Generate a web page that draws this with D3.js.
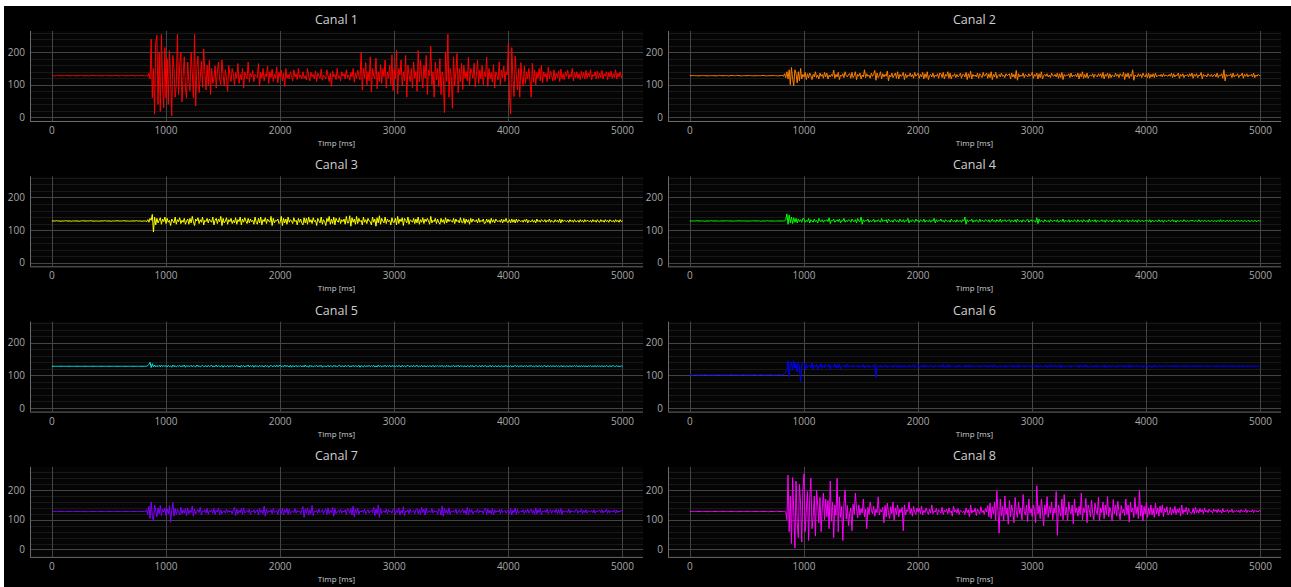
<!DOCTYPE html>
<html>
<head>
<meta charset="utf-8">
<script src="https://cdn.jsdelivr.net/npm/d3@7"></script>
<style>
html,body{margin:0;padding:0;background:#ffffff;}
svg{display:block;}
</style>
</head>
<body>
<svg id="chart" width="1291" height="587"></svg>
<script>
// Eight acquisition channels, one raw ADC sample every 10 ms from 0 to 5000 ms.
const sampleStepMs = 10;
const channelNames = ["Canal 1","Canal 2","Canal 3","Canal 4","Canal 5","Canal 6","Canal 7","Canal 8"];
const channelColors = ["#ff0000","#ff8000","#ffff00","#00ff00","#00e8e8","#0000ff","#8000ff","#ff00ff"];
const xTicks = [0,1000,2000,3000,4000,5000];
const yTicks = [0,100,200];
const xTitle = "Timp [ms]";

const canal1 = [
128,128,127,128,128,129,128,128,127,128,128,128,128,129,128,128,127,128,128,128,
128,127,128,128,128,129,128,128,128,127,128,128,127,128,128,128,129,128,128,128,
128,128,128,127,128,128,128,129,128,128,127,128,128,128,128,128,129,128,128,127,
128,128,129,128,128,127,128,128,128,128,129,128,128,127,128,128,128,128,129,128,
128,128,127,130,126,135,118,240,60,150,10,230,252,40,200,18,255,90,30,214,
60,180,40,205,120,5,190,150,62,100,255,70,160,200,48,130,186,90,60,170,
110,82,200,140,60,255,35,150,188,76,120,172,92,210,140,84,160,100,175,70,
150,104,120,158,90,140,170,118,100,176,132,96,146,122,80,160,128,110,150,135,
100,138,120,165,104,132,116,150,90,140,128,118,170,108,135,124,145,110,132,126,
122,165,96,138,120,150,112,134,124,158,104,140,122,148,110,132,120,155,106,138,
124,145,112,136,95,150,120,132,118,140,128,112,146,124,134,116,150,122,130,118,
140,120,128,115,150,126,112,138,124,132,118,142,110,136,126,120,148,114,130,125,
118,146,128,110,136,95,142,124,132,116,150,120,128,112,140,126,134,118,146,122,
130,114,138,124,150,108,136,120,145,128,116,200,84,150,120,168,100,140,112,186,
78,150,128,118,182,88,140,110,162,104,150,125,176,90,140,120,160,100,192,82,
145,118,206,72,150,130,176,96,140,112,190,62,160,128,110,150,90,170,120,140,
80,205,110,175,130,90,160,120,190,70,145,128,218,100,140,62,170,115,150,95,
180,70,140,120,15,200,110,255,62,150,125,28,186,98,140,196,76,150,110,166,
86,160,120,140,112,184,98,150,138,120,166,94,130,176,104,145,118,160,100,140,
125,185,95,150,118,138,108,162,90,140,130,115,170,100,145,122,158,110,140,130,
226,60,10,214,120,64,188,130,84,150,62,168,120,96,158,104,140,118,150,110,
62,166,108,146,100,138,120,150,112,160,106,140,124,135,110,155,118,142,128,112,
146,114,136,122,142,110,148,118,134,116,140,126,145,118,132,124,150,112,138,122,
140,120,134,116,142,122,138,118,144,120,136,124,146,116,132,126,140,118,142,120,
136,122,144,118,134,126,140,116,138,124,142,120,134,122,146,118,136,124,140,122,
130];

const canal2 = [
128,128,128,129,128,128,128,127,128,128,128,129,128,128,128,128,127,128,128,128,
128,128,128,127,128,128,129,128,128,128,128,128,128,128,127,128,128,129,128,128,
128,129,128,128,128,127,128,128,128,128,128,128,129,128,128,128,127,128,128,128,
128,128,128,128,129,128,128,127,128,128,128,128,128,129,128,128,128,127,128,128,
128,130,126,134,122,140,118,146,100,153,120,97,146,135,106,140,112,150,118,132,
124,138,116,134,121,136,128,116,132,124,140,122,130,118,136,126,132,120,138,124,
136,118,130,124,132,126,145,120,132,124,138,116,130,126,134,122,140,128,124,132,
134,120,138,122,128,140,116,132,126,136,118,130,124,146,122,134,126,130,120,136,
126,132,144,114,136,122,128,140,118,134,124,132,126,142,112,130,124,136,122,130,
136,120,140,118,132,126,128,138,116,134,122,130,126,136,124,132,120,138,126,130,
136,120,132,124,138,118,134,122,140,116,128,132,124,136,122,130,126,134,120,136,
134,122,138,118,132,126,140,120,136,118,130,126,134,122,132,124,128,136,120,132,
132,124,138,116,134,122,142,118,132,126,130,124,136,120,134,128,122,138,126,130,
136,120,134,122,140,116,132,124,138,120,128,132,124,136,126,130,122,134,128,130,
134,118,136,124,132,120,144,114,134,124,130,126,136,122,132,128,124,134,126,130,
138,120,132,126,136,118,134,122,140,118,128,132,126,134,124,130,122,136,128,126,
132,124,136,120,134,122,138,116,132,126,130,128,134,122,136,124,130,126,132,124,
136,118,134,124,140,120,132,122,136,120,128,130,126,134,122,132,128,124,134,126,
134,122,138,118,132,126,136,120,134,122,130,128,124,136,126,132,122,134,128,126,
138,116,134,124,136,120,132,126,146,114,130,128,124,134,126,132,122,136,128,124,
134,122,136,120,132,124,134,122,136,124,128,130,126,132,124,134,126,130,128,126,
132,126,136,122,134,124,130,128,136,120,132,126,134,122,130,128,132,124,134,126,
136,120,132,126,134,122,130,128,138,118,132,126,130,124,134,128,126,132,124,130,
132,124,136,122,130,128,134,120,146,112,132,126,130,128,134,122,136,124,130,128,
134,122,130,128,136,120,132,126,134,124,130,128,132,124,136,122,130,126,132,128,
128];

const canal3 = [
128,128,128,128,129,128,128,128,127,128,128,128,129,128,128,128,128,127,128,128,
128,128,128,128,127,128,128,129,128,128,128,128,128,128,129,128,128,127,128,128,
128,127,128,128,128,128,129,128,128,128,128,128,127,128,128,128,128,129,128,128,
128,128,128,129,128,128,128,128,127,128,128,128,128,128,129,128,128,128,128,127,
128,128,128,126,132,124,136,130,148,94,140,116,136,122,130,138,118,134,126,140,
120,136,124,130,114,134,128,122,140,118,132,126,138,120,130,124,136,118,128,134,
118,136,122,142,126,114,134,128,138,120,132,124,140,116,130,126,136,122,134,128,
124,140,116,130,136,120,134,126,142,114,136,122,128,138,118,132,126,136,120,130,
122,138,118,132,126,140,116,134,124,138,128,120,136,122,134,126,130,118,140,124,
118,136,122,140,116,132,126,138,120,134,128,124,142,114,136,122,130,128,134,120,
124,142,114,136,122,134,118,140,124,132,128,120,138,126,130,116,136,124,134,122,
116,138,122,136,118,140,124,132,120,138,126,130,114,136,128,122,140,118,132,126,
114,136,126,142,118,134,120,140,116,136,128,124,138,120,132,126,134,118,142,122,
122,144,112,138,124,134,118,142,120,136,126,130,116,140,124,132,120,136,128,126,
116,140,124,134,112,138,122,144,118,136,128,122,140,120,134,126,130,116,138,124,
124,136,116,142,120,134,126,138,114,136,130,122,140,118,132,128,124,136,120,134,
122,140,118,132,124,138,120,134,126,136,128,118,142,122,130,126,136,120,134,124,
118,136,124,132,120,138,122,134,126,132,128,124,136,120,134,126,130,122,138,124,
122,136,120,134,124,132,118,136,124,134,128,126,132,122,136,124,130,126,134,120,
122,134,124,132,120,136,124,132,122,134,128,126,130,124,134,122,132,126,136,124,
124,132,122,134,124,132,122,134,124,132,128,126,130,124,132,126,134,122,130,126,
126,132,124,130,122,134,126,130,124,132,128,126,132,124,130,126,134,124,130,126,
124,132,126,130,124,134,122,132,126,130,128,126,130,124,132,126,130,124,132,126,
126,130,124,132,126,130,124,132,126,130,128,126,130,124,132,126,130,124,132,126,
124,132,126,130,124,132,126,130,124,132,128,126,130,124,132,126,130,124,132,126,
128];

const canal4 = [
128,128,128,128,128,128,129,128,128,128,128,128,128,127,128,128,128,128,128,129,
128,128,128,128,128,128,127,128,128,128,128,128,129,128,128,128,128,128,127,128,
128,128,128,129,128,128,128,128,128,128,128,127,128,128,128,128,129,128,128,128,
128,128,127,128,128,128,128,128,129,128,128,128,128,128,127,128,128,128,128,128,
128,128,128,128,132,150,118,146,122,140,120,138,124,136,122,134,126,132,124,136,
134,124,130,126,136,122,132,128,124,134,126,130,122,136,128,126,132,124,130,128,
132,126,138,120,130,128,134,124,128,132,126,134,122,130,128,136,124,130,126,132,
130,124,134,128,126,132,122,136,128,126,140,118,132,126,130,128,134,124,130,126,
128,134,124,130,126,132,128,124,136,126,130,128,132,122,134,128,126,130,124,132,
132,126,130,124,134,128,126,132,124,130,128,136,122,130,126,132,128,124,134,128,
130,124,132,128,126,134,124,130,128,126,132,124,130,128,136,122,132,126,130,128,
134,126,130,124,132,128,126,130,124,134,128,126,130,124,132,126,128,130,124,132,
128,140,118,132,126,130,128,134,124,130,126,132,128,124,134,126,130,128,126,132,
130,126,132,124,128,134,126,130,124,132,128,126,134,124,130,128,132,126,128,130,
132,124,130,128,126,132,124,134,128,126,130,124,132,128,126,130,134,124,128,132,
126,130,128,124,138,120,134,126,130,128,124,132,128,126,130,124,132,128,126,130,
130,126,132,124,128,130,126,134,124,130,128,126,132,124,130,128,126,132,128,124,
132,126,128,130,124,132,128,126,130,124,134,126,128,130,126,132,124,130,128,126,
128,132,126,130,124,132,128,126,130,128,124,132,126,130,128,126,132,124,130,128,
130,126,128,132,124,130,128,126,132,126,128,130,124,132,128,126,130,128,126,130,
128,130,126,132,124,130,128,126,130,128,126,132,126,128,130,124,130,128,126,130,
130,126,128,132,126,130,124,130,128,126,130,128,126,132,128,126,130,126,128,130,
128,130,126,130,128,126,132,126,128,130,126,130,128,126,130,128,126,130,128,126,
130,126,128,130,126,132,126,128,130,126,128,130,126,130,128,126,130,128,126,130,
128,130,126,130,128,126,130,128,126,130,128,126,130,128,126,130,128,126,130,128,
128];

const canal5 = [
128,128,128,128,128,128,128,128,128,128,128,128,128,128,128,128,128,128,128,128,
128,128,128,128,128,128,128,128,128,128,128,128,128,128,128,128,128,128,128,128,
128,128,128,128,128,128,128,128,128,128,128,128,128,128,128,128,128,128,128,128,
128,128,128,128,128,128,128,128,128,128,128,128,128,128,128,128,128,128,128,128,
128,128,128,128,130,134,140,124,136,126,132,126,130,127,131,126,132,127,130,128,
130,126,131,127,129,125,132,127,130,126,129,128,131,126,130,127,132,125,130,128,
129,127,131,126,130,128,126,132,127,130,126,129,131,127,128,130,126,131,127,129,
131,126,129,127,132,126,130,128,127,131,125,130,128,127,131,126,129,128,130,127,
130,127,131,126,129,125,131,127,130,126,129,128,132,126,130,127,131,125,130,128,
129,126,131,127,130,128,126,131,127,130,125,129,131,127,128,130,126,132,127,129,
131,127,129,126,132,127,130,128,126,131,125,130,128,127,131,126,129,128,130,126,
130,126,132,127,129,125,131,127,130,126,129,128,131,126,130,128,131,125,129,128,
128,127,131,126,130,128,126,131,127,130,126,129,132,127,128,130,126,131,127,129,
131,126,129,127,131,126,130,128,127,131,125,130,128,126,131,127,129,128,130,127,
130,127,131,126,129,126,132,127,130,126,129,128,131,126,130,127,131,126,130,128,
129,127,130,126,131,128,126,131,127,130,126,129,131,127,128,130,126,131,127,129,
131,126,129,127,131,126,130,128,127,130,126,130,128,127,131,126,129,128,130,127,
130,127,131,126,129,126,131,127,130,126,129,128,131,126,130,127,131,126,130,128,
129,127,130,126,130,128,126,131,127,130,126,129,130,127,128,130,126,131,127,129,
130,126,129,127,131,126,130,128,127,130,126,130,128,127,130,126,129,128,130,127,
129,127,130,126,129,127,131,127,130,126,129,128,130,126,130,127,130,126,130,128,
130,127,129,126,130,128,127,130,127,130,126,129,130,127,128,130,126,130,127,129,
129,127,130,127,129,126,130,128,127,130,126,129,128,127,130,127,129,128,130,127,
130,127,129,127,130,126,130,127,129,127,129,128,130,127,129,127,130,127,129,128,
129,127,130,127,129,127,130,128,127,130,127,129,130,127,128,130,127,129,127,129,
128];

const canal6 = [
102,102,101,102,102,103,102,102,101,102,102,102,102,103,102,102,101,102,102,102,
102,101,102,102,102,103,102,102,102,101,102,102,101,102,102,102,103,102,102,102,
102,102,102,101,102,102,102,103,102,102,101,102,102,102,102,102,103,102,102,101,
102,102,103,102,102,101,102,102,102,102,103,102,102,101,102,102,102,102,103,102,
102,103,104,106,110,118,145,96,130,140,118,145,122,136,110,140,124,80,132,138,
140,118,134,122,128,132,124,138,120,132,126,134,118,130,126,136,122,132,124,134,
130,126,134,118,130,128,126,136,122,132,124,134,120,128,130,126,132,124,134,126,
130,126,132,124,130,128,126,132,124,130,128,126,134,122,130,126,132,124,130,126,
130,126,134,93,130,128,126,132,124,130,128,126,132,124,130,126,128,132,124,130,
131,125,133,124,130,126,132,125,131,124,129,127,132,125,130,126,133,124,130,127,
132,125,130,126,133,124,131,126,130,125,128,132,126,130,124,131,127,129,132,125,
131,126,133,124,130,125,134,125,131,126,129,127,131,124,130,126,132,125,130,127,
130,125,132,126,131,124,133,126,130,125,128,131,126,130,124,132,127,129,131,126,
132,124,130,126,131,125,133,126,130,125,129,127,132,125,130,126,131,124,130,127,
131,126,132,124,130,126,131,125,133,124,128,131,126,130,125,132,127,129,131,125,
130,126,131,125,132,124,130,126,131,125,129,127,132,124,130,126,133,125,130,127,
132,125,130,126,133,124,131,126,130,125,128,131,126,130,125,131,127,129,131,126,
131,124,132,126,130,125,133,126,131,124,129,127,131,125,130,126,132,124,130,127,
130,126,131,125,132,124,130,126,131,125,128,131,126,130,124,132,127,129,131,125,
132,125,130,126,131,124,133,125,130,126,129,127,132,125,130,126,131,124,130,127,
131,125,132,126,130,124,131,126,132,125,128,131,126,130,125,131,127,129,131,126,
130,126,131,125,132,126,130,125,131,126,129,127,131,125,130,126,132,125,130,127,
131,125,130,126,132,125,131,126,130,125,128,130,126,131,125,130,127,129,131,126,
130,126,131,125,130,126,131,125,132,126,129,127,130,125,131,126,130,125,130,127,
131,125,130,126,131,125,130,126,131,125,128,130,126,131,125,130,127,129,130,126,
128];

const canal7 = [
128,128,128,128,128,128,128,128,128,128,128,128,128,128,128,128,128,128,128,128,
128,128,128,128,128,128,128,128,128,128,127,128,128,128,128,128,128,128,128,128,
128,128,128,128,128,128,128,128,128,128,128,128,128,128,128,128,128,128,128,128,
128,128,128,128,128,128,128,128,128,128,128,128,128,128,128,128,128,128,128,128,
128,130,126,134,118,145,104,160,112,96,150,130,110,140,120,148,114,136,126,140,
114,136,120,148,92,130,158,112,138,118,136,126,116,142,120,134,122,138,114,140,
120,132,124,146,112,136,120,128,134,124,142,116,130,126,134,122,138,118,132,126,
134,122,138,118,132,126,140,116,134,120,128,130,122,136,124,132,126,130,120,134,
142,114,136,120,132,124,138,118,140,122,128,132,124,136,118,130,126,134,122,130,
134,116,138,124,132,120,146,112,136,122,130,126,134,120,138,124,128,132,118,136,
132,120,140,116,134,124,138,118,136,120,128,130,124,138,122,132,126,130,120,134,
144,108,136,122,140,116,134,120,148,114,130,126,132,122,136,124,128,134,120,132,
136,118,140,120,132,124,142,112,138,120,128,132,124,136,122,130,126,134,118,138,
134,122,138,116,146,110,136,122,140,118,130,126,132,124,136,120,128,134,122,130,
132,124,142,114,136,120,150,108,138,122,128,130,124,136,120,134,126,130,122,136,
136,118,134,124,140,116,132,122,144,114,130,126,134,120,136,124,128,132,120,134,
138,120,134,118,142,124,136,116,140,122,128,130,124,138,122,132,126,130,118,136,
134,116,146,112,138,122,134,120,140,118,130,126,132,124,136,120,128,134,122,130,
136,122,132,118,142,116,136,124,134,120,128,130,124,136,122,132,126,130,120,134,
140,118,136,122,132,120,138,116,134,124,130,126,134,120,136,124,128,132,122,130,
134,120,138,116,132,124,140,118,136,122,128,130,126,134,120,132,124,136,122,130,
136,122,132,118,140,120,134,124,138,116,130,126,132,124,136,120,128,134,122,132,
132,124,136,120,134,122,138,118,132,126,128,130,124,136,122,132,126,130,124,134,
134,122,130,126,136,120,132,124,134,122,130,128,126,132,124,134,122,130,126,132,
132,124,134,122,130,126,136,122,132,124,130,128,126,134,122,132,124,130,126,132,
128];

const canal8 = [
128,128,128,129,128,128,128,128,128,128,128,128,128,128,128,127,128,128,128,128,
128,128,128,128,128,128,128,128,129,128,128,128,128,128,128,128,128,128,128,128,
128,128,127,128,128,128,128,128,128,128,128,129,128,128,128,128,128,128,128,128,
128,128,128,128,128,128,128,128,128,127,128,128,128,128,128,128,129,128,128,128,
128,128,128,130,126,100,250,60,180,20,242,130,5,230,90,40,220,150,25,200,
255,60,130,195,30,170,240,70,110,180,45,200,150,90,175,60,140,190,100,170,
110,165,70,230,95,160,40,150,115,240,60,177,108,145,30,155,200,102,148,80,
120,140,63,152,118,190,138,106,150,116,138,122,170,110,136,70,142,118,160,134,
120,146,112,136,124,177,116,134,126,142,90,148,110,156,124,104,144,120,160,98,
140,118,150,110,136,124,142,63,150,116,134,128,160,120,138,112,145,126,118,140,
126,138,120,146,116,132,124,140,128,118,136,122,150,120,130,126,138,116,134,128,
122,142,118,132,126,136,120,140,124,130,112,146,126,134,122,138,118,132,128,124,
130,118,140,124,134,110,150,122,132,126,140,114,136,128,120,144,124,132,118,138,
126,148,110,156,104,144,120,160,98,197,130,55,170,112,145,96,180,118,140,85,
165,110,150,125,90,175,130,108,160,120,140,100,185,128,116,150,94,170,122,138,
110,150,128,90,215,120,148,104,170,130,80,150,118,178,108,145,122,160,100,140,
122,195,48,150,128,112,170,100,185,116,142,96,160,130,120,150,86,170,124,140,
112,145,118,190,100,140,124,172,90,150,134,110,165,122,100,156,130,118,176,96,
140,124,160,104,150,118,178,110,142,126,96,168,120,150,112,162,128,100,148,122,
136,114,170,118,150,92,160,126,140,108,175,120,144,104,200,112,150,96,145,120,
158,108,140,118,150,116,138,108,156,120,140,112,146,124,150,110,138,126,144,116,
120,142,116,136,122,145,118,136,124,140,112,150,120,134,126,142,118,138,128,122,
122,138,120,142,124,134,122,138,126,134,120,140,126,132,124,136,128,130,122,136,
128,134,124,136,126,132,122,138,126,130,128,134,124,132,126,136,124,130,128,132,
126,132,124,134,128,130,126,136,124,132,128,130,126,134,124,132,128,130,126,132,
128];

const channelData = [canal1,canal2,canal3,canal4,canal5,canal6,canal7,canal8];

// Panel grid geometry
const svg = d3.select("#chart");
const W = 1291, H = 587;
const colLeft = [30, 668];
const plotW = 613, plotH = 90;
const rowTop = [31, 176.3, 321.6, 466.9];
const rowYDomain = [[-11,265],[-11,265],[-11,265],[-25,278]];
const xDomain = [-192, 5180];
const fontFamily = "'Open Sans', verdana, arial, sans-serif";

svg.append("rect").attr("x",4).attr("y",6).attr("width",W-4).attr("height",H-6).attr("fill","#000000");

const defs = svg.append("defs");

channelData.forEach((values, k) => {
  const row = Math.floor(k / 2), col = k % 2;
  const left = colLeft[col], top = rowTop[row];
  const x = d3.scaleLinear().domain(xDomain).range([left, left + plotW]);
  const y = d3.scaleLinear().domain(rowYDomain[row]).range([top + plotH, top]);
  const g = svg.append("g");

  g.append("rect").attr("x",left).attr("y",top).attr("width",plotW).attr("height",plotH).attr("fill","#050505");

  // minor horizontal grid every 20
  const minor = d3.range(20, rowYDomain[row][1], 20).filter(v => v % 100 !== 0);
  g.selectAll(".minor").data(minor).join("line")
    .attr("x1",left).attr("x2",left+plotW)
    .attr("y1",d=>Math.round(y(d))+0.5).attr("y2",d=>Math.round(y(d))+0.5)
    .attr("stroke","#181818").attr("stroke-width",1);

  // major grid
  g.selectAll(".gy").data(yTicks).join("line")
    .attr("x1",left).attr("x2",left+plotW)
    .attr("y1",d=>Math.round(y(d))+0.5).attr("y2",d=>Math.round(y(d))+0.5)
    .attr("stroke","#444444").attr("stroke-width",1);
  g.selectAll(".gx").data(xTicks).join("line")
    .attr("x1",d=>Math.round(x(d))+0.5).attr("x2",d=>Math.round(x(d))+0.5)
    .attr("y1",top).attr("y2",top+plotH)
    .attr("stroke","#444444").attr("stroke-width",1);

  // axis lines
  g.append("line").attr("x1",left+0.5).attr("x2",left+0.5).attr("y1",top).attr("y2",top+plotH)
    .attr("stroke","#6a6a6a").attr("stroke-width",1);
  g.append("line").attr("x1",left).attr("x2",left+plotW).attr("y1",top+plotH+0.5).attr("y2",top+plotH+0.5)
    .attr("stroke","#6a6a6a").attr("stroke-width",1);

  // signal trace
  const clipId = "clip" + k;
  defs.append("clipPath").attr("id",clipId).append("rect")
    .attr("x",left).attr("y",top).attr("width",plotW).attr("height",plotH);
  const line = d3.line().x((d,i)=>x(i*sampleStepMs)).y(d=>y(d));
  g.append("path").datum(values).attr("d",line)
    .attr("clip-path","url(#"+clipId+")")
    .attr("fill","none").attr("stroke",channelColors[k]).attr("stroke-width",1)
    .attr("stroke-linejoin","round");

  // tick labels
  g.selectAll(".ty").data(yTicks).join("text")
    .attr("x",left-5).attr("y",d=>y(d)).attr("dy","0.35em")
    .attr("text-anchor","end").attr("fill","#a8a8a8")
    .style("font-family",fontFamily).style("font-size","10px").text(d=>d);
  g.selectAll(".tx").data(xTicks).join("text")
    .attr("x",d=>x(d)).attr("y",top+plotH+6).attr("dy","0.71em")
    .attr("text-anchor","middle").attr("fill","#a8a8a8")
    .style("font-family",fontFamily).style("font-size","10px").text(d=>d);

  // axis title and panel title
  g.append("text").attr("x",left+plotW/2).attr("y",top+plotH+25)
    .attr("text-anchor","middle").attr("fill","#cfcfcf")
    .style("font-family",fontFamily).style("font-size","8px").text(xTitle);
  g.append("text").attr("x",left+plotW/2).attr("y",top-7)
    .attr("text-anchor","middle").attr("fill","#d0d0d0")
    .style("font-family",fontFamily).style("font-size","12.5px").text(channelNames[k]);
});
</script>
</body>
</html>
